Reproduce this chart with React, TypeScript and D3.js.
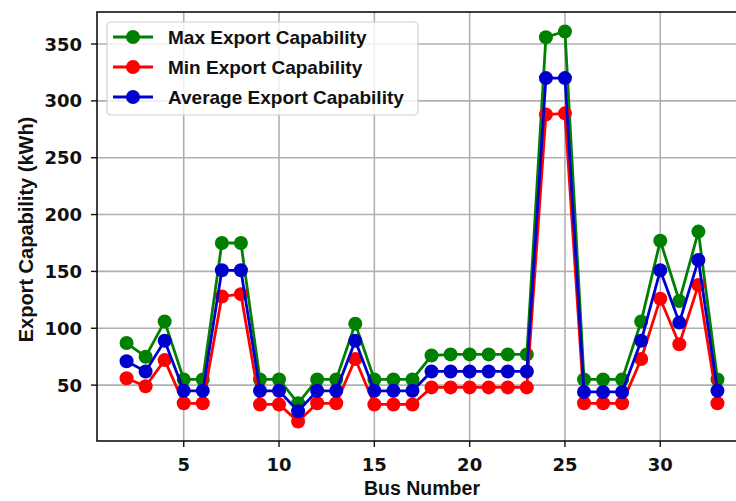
import React, { useEffect, useRef } from "react";
import * as d3 from "d3";

const buses = d3.range(2, 34);
const maxExport = [87, 75, 106, 55, 55, 175, 175, 55, 55, 34, 55, 55, 104, 55, 55, 55, 76, 77, 77, 77, 77, 77, 356, 361, 55, 55, 55, 106, 177, 124, 185, 55];
const minExport = [56, 49, 72, 34, 34, 128, 130, 33, 33, 18, 34, 34, 73, 33, 33, 33, 48, 48, 48, 48, 48, 48, 288, 289, 34, 34, 34, 73, 126, 86, 138, 34];
const avgExport = [71, 62, 89, 45, 45, 151, 151, 45, 45, 27, 45, 45, 89, 45, 45, 45, 62, 62, 62, 62, 62, 62, 320, 320, 44, 44, 44, 89, 151, 105, 160, 45];
const xTicks = [5, 10, 15, 20, 25, 30];
const yTicks = [50, 100, 150, 200, 250, 300, 350];

const series = [
  { name: "Max Export Capability", values: maxExport, color: "#008000" },
  { name: "Min Export Capability", values: minExport, color: "#ff0000" },
  { name: "Average Export Capability", values: avgExport, color: "#0000cc" },
];

const W = 736;
const H = 501;

export default function App() {
  const ref = useRef<SVGSVGElement>(null);

  useEffect(() => {
    const svg = d3.select(ref.current);
    svg.selectAll("*").remove();

    const left = 97, right = 747, top = 12, bottom = 441;

    // matplotlib style 5% margins
    const xmin = d3.min(buses)!, xmax = d3.max(buses)!;
    const xpad = (xmax - xmin) * 0.05;
    const x = d3.scaleLinear().domain([xmin - xpad, xmax + xpad]).range([left, right]);

    const all = maxExport.concat(minExport, avgExport);
    const ymin = d3.min(all)!, ymax = d3.max(all)!;
    const ypad = (ymax - ymin) * 0.05;
    const y = d3.scaleLinear().domain([ymin - ypad, ymax + ypad]).range([bottom, top]);

    // grid
    const grid = svg.append("g").attr("stroke", "#b0b0b0").attr("stroke-width", 1.6);
    xTicks.forEach((t) => {
      grid.append("line").attr("x1", x(t)).attr("x2", x(t)).attr("y1", top).attr("y2", bottom);
    });
    yTicks.forEach((t) => {
      grid.append("line").attr("x1", left).attr("x2", right).attr("y1", y(t)).attr("y2", y(t));
    });

    // series
    const line = d3.line<number>().x((d, i) => x(buses[i])).y((d) => y(d));
    series.forEach((s) => {
      const g = svg.append("g");
      g.append("path")
        .attr("d", line(s.values))
        .attr("fill", "none")
        .attr("stroke", s.color)
        .attr("stroke-width", 2.8);
      g.selectAll("circle")
        .data(s.values)
        .enter()
        .append("circle")
        .attr("cx", (d, i) => x(buses[i]))
        .attr("cy", (d) => y(d))
        .attr("r", 7)
        .attr("fill", s.color);
    });

    // spines
    svg.append("rect")
      .attr("x", left).attr("y", top)
      .attr("width", right - left).attr("height", bottom - top)
      .attr("fill", "none").attr("stroke", "#111").attr("stroke-width", 1.6);

    // ticks
    const tickFont = "'DejaVu Sans', sans-serif";
    xTicks.forEach((t) => {
      svg.append("line").attr("x1", x(t)).attr("x2", x(t)).attr("y1", bottom).attr("y2", bottom + 6)
        .attr("stroke", "#111").attr("stroke-width", 1.4);
      svg.append("text").attr("x", x(t)).attr("y", 471)
        .attr("text-anchor", "middle").attr("font-family", tickFont)
        .attr("font-weight", "bold").attr("font-size", 18).attr("fill", "#111")
        .text(t);
    });
    yTicks.forEach((t) => {
      svg.append("line").attr("x1", left - 6).attr("x2", left).attr("y1", y(t)).attr("y2", y(t))
        .attr("stroke", "#111").attr("stroke-width", 1.4);
      svg.append("text").attr("x", 82).attr("y", y(t) + 6.5)
        .attr("text-anchor", "end").attr("font-family", tickFont)
        .attr("font-weight", "bold").attr("font-size", 18).attr("fill", "#111")
        .text(t);
    });

    const labelFont = "'Liberation Sans', Arial, sans-serif";
    svg.append("text")
      .attr("x", (left + right) / 2).attr("y", 495)
      .attr("text-anchor", "middle").attr("font-family", labelFont)
      .attr("font-weight", "bold").attr("font-size", 19.5).attr("fill", "#111")
      .text("Bus Number");

    svg.append("text")
      .attr("transform", `translate(33, ${(top + bottom) / 2 + 3}) rotate(-90)`)
      .attr("text-anchor", "middle").attr("font-family", labelFont)
      .attr("font-weight", "bold").attr("font-size", 20).attr("fill", "#111")
      .text("Export Capability (kWh)");

    // legend
    const lg = svg.append("g");
    lg.append("rect")
      .attr("x", 107).attr("y", 22).attr("width", 311).attr("height", 93).attr("rx", 4)
      .attr("fill", "white").attr("fill-opacity", 0.8)
      .attr("stroke", "#d0d0d0").attr("stroke-width", 1.2);
    series.forEach((s, i) => {
      const ly = 37 + i * 30;
      lg.append("line").attr("x1", 113).attr("x2", 153).attr("y1", ly).attr("y2", ly)
        .attr("stroke", s.color).attr("stroke-width", 2.8);
      lg.append("circle").attr("cx", 133).attr("cy", ly).attr("r", 7).attr("fill", s.color);
      lg.append("text").attr("x", 168).attr("y", ly + 7)
        .attr("font-family", labelFont).attr("font-weight", "bold")
        .attr("font-size", 19).attr("fill", "#111")
        .text(s.name);
    });
  }, []);

  return (
    <svg
      ref={ref}
      width={W}
      height={H}
      style={{ position: "absolute", left: 0, top: 0, background: "white" }}
    />
  );
}
